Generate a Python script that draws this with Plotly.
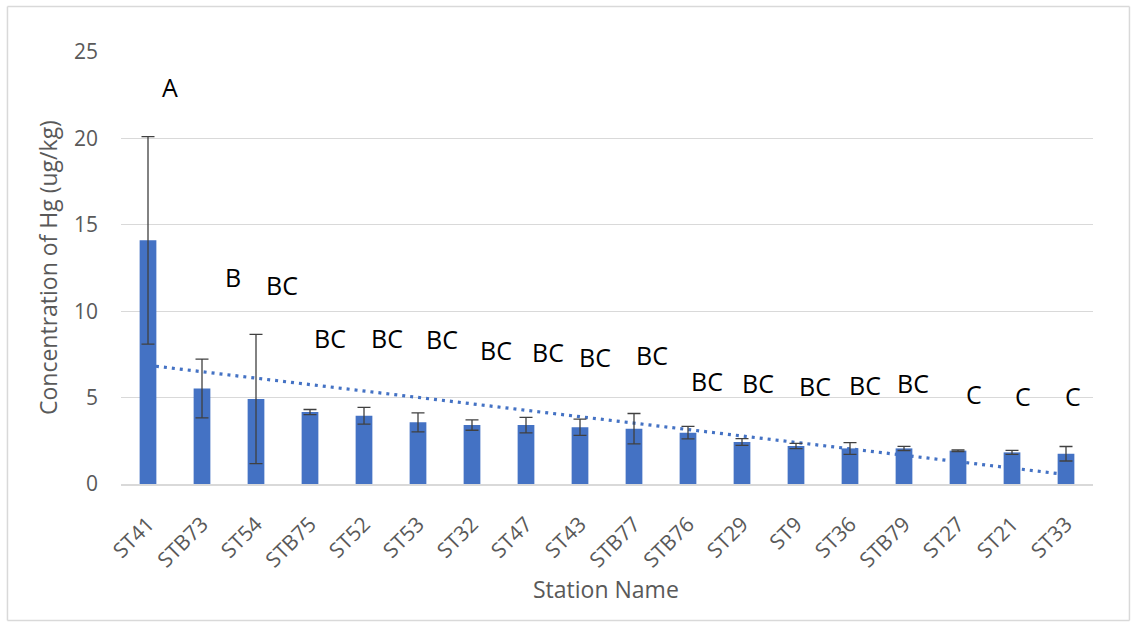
import numpy as np
import plotly.graph_objects as go

# Mean Hg concentration per station (ug/kg) with standard deviation
stations = ["ST41", "STB73", "ST54", "STB75", "ST52", "ST53", "ST32", "ST47", "ST43",
            "STB77", "STB76", "ST29", "ST9", "ST36", "STB79", "ST27", "ST21", "ST33"]
hg_mean = [14.1, 5.53, 4.92, 4.16, 3.95, 3.57, 3.41, 3.41, 3.28,
           3.20, 2.97, 2.43, 2.20, 2.06, 2.06, 1.93, 1.83, 1.75]
hg_sd = [6.0, 1.7, 3.74, 0.15, 0.49, 0.55, 0.30, 0.45, 0.47,
         0.88, 0.36, 0.20, 0.15, 0.34, 0.12, 0.05, 0.12, 0.42]
# Significance grouping letters (one per station)
groups = ["A", "B", "BC", "BC", "BC", "BC", "BC", "BC", "BC",
          "BC", "BC", "BC", "BC", "BC", "BC", "C", "C", "C"]
y_ticks = [0, 5, 10, 15, 20, 25]

# Placement of the letter labels: horizontal shift from the bar and height on the y scale
letter_dx = [0.41, 0.57, 0.48, 0.37, 0.43, 0.44, 0.44, 0.41, 0.28,
             0.33, 0.35, 0.30, 0.35, 0.28, 0.17, 0.30, 0.20, 0.13]
letter_y = [22.96, 11.97, 11.51, 8.44, 8.44, 8.39, 7.75, 7.63, 7.35,
            7.46, 5.96, 5.84, 5.67, 5.73, 5.84, 5.21, 5.09, 5.09]

BLUE = "#4472C4"
GREY_TXT = "#595959"
FONT = "Open Sans"

# Linear trend of the means over station order
idx = np.arange(1, len(hg_mean) + 1)
slope, intercept = np.polyfit(idx, hg_mean, 1)
trend = slope * idx + intercept

fig = go.Figure()

# Trend line on the base axes so the bars (overlay axes) sit on top of it
fig.add_trace(go.Scatter(
    x=stations, y=trend, mode="lines",
    line=dict(color=BLUE, width=3.2, dash="3px,5px"),
    xaxis="x", yaxis="y", hoverinfo="skip", showlegend=False,
))

fig.add_trace(go.Bar(
    x=stations, y=hg_mean, width=0.31,
    marker=dict(color=BLUE, line=dict(width=0)),
    error_y=dict(type="data", array=hg_sd, visible=True,
                 color="#404040", thickness=1.3, width=6.5),
    xaxis="x2", yaxis="y2", showlegend=False,
))

annotations = []
for i, (g, dx, ly) in enumerate(zip(groups, letter_dx, letter_y)):
    annotations.append(dict(
        x=i + dx, y=ly, xref="x", yref="y", text=g, showarrow=False,
        xanchor="center", yanchor="middle",
        font=dict(family=FONT, size=25, color="#000000"),
    ))

# Axis titles
annotations.append(dict(
    x=-0.0751, y=0.5, xref="paper", yref="paper", text="Concentration of Hg (ug/kg)",
    textangle=-90, showarrow=False, xanchor="center", yanchor="middle",
    font=dict(family=FONT, size=23, color=GREY_TXT),
))
annotations.append(dict(
    x=0.499, y=-0.244, xref="paper", yref="paper", text="Station Name",
    showarrow=False, xanchor="center", yanchor="middle",
    font=dict(family=FONT, size=23, color=GREY_TXT),
))

# Light frame around the whole chart
frame = dict(color="#D9D9D9", width=1.5)
shapes = [
    dict(type="line", xref="paper", yref="paper", x0=-0.1168, x1=-0.1168, y0=-0.316, y1=1.1053, line=frame),
    dict(type="line", xref="paper", yref="paper", x0=-0.1168, x1=1.0375, y0=1.1053, y1=1.1053, line=frame),
    dict(type="line", xref="paper", yref="paper", x0=-0.1168, x1=1.0375, y0=-0.316, y1=-0.316, line=frame),
    dict(type="line", xref="paper", yref="paper", x0=1.0375, x1=1.0375, y0=-0.316, y1=1.1053, line=frame),
]

fig.update_layout(
    width=1137, height=622,
    margin=dict(l=121, r=44, t=52, b=138),
    paper_bgcolor="white", plot_bgcolor="white",
    font=dict(family=FONT, color=GREY_TXT),
    xaxis=dict(
        type="category", categoryorder="array", categoryarray=stations,
        range=[-0.5, len(stations) - 0.5],
        tickangle=-45, tickfont=dict(family=FONT, size=21, color=GREY_TXT),
        showgrid=False, showline=True, linecolor="#D9D9D9", linewidth=1.5,
        ticks="", ticklabelstandoff=18, zeroline=False,
    ),
    yaxis=dict(
        range=[0, 25], tickvals=y_ticks,
        tickfont=dict(family=FONT, size=21, color=GREY_TXT),
        showgrid=True, gridcolor="#D9D9D9", gridwidth=1.3,
        zeroline=False, showline=False, ticks="", ticklabelstandoff=22,
    ),
    xaxis2=dict(
        type="category", categoryorder="array", categoryarray=stations,
        range=[-0.5, len(stations) - 0.5], overlaying="x", visible=False,
    ),
    yaxis2=dict(range=[0, 25], overlaying="y", visible=False),
    annotations=annotations,
    shapes=shapes,
    bargap=0.69,
)

fig.write_html("out.html")
